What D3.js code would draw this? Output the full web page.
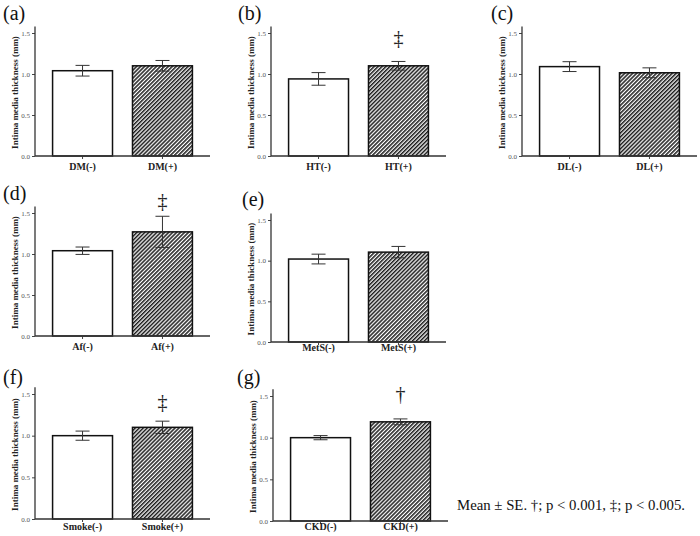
<!DOCTYPE html>
<html><head><meta charset="utf-8">
<script src="https://cdn.jsdelivr.net/npm/d3@7"></script>
<style>body{margin:0;background:#fff}svg{display:block}</style>
</head><body>
<svg id="c" width="700" height="536"></svg>
<script>
// ---- data ----
const panelLabels = ["(a)","(b)","(c)","(d)","(e)","(f)","(g)"];
const categories = [
  ["DM(-)","DM(+)"],
  ["HT(-)","HT(+)"],
  ["DL(-)","DL(+)"],
  ["Af(-)","Af(+)"],
  ["MetS(-)","MetS(+)"],
  ["Smoke(-)","Smoke(+)"],
  ["CKD(-)","CKD(+)"]
];
const means = [
  [1.04, 1.10],
  [0.94, 1.10],
  [1.09, 1.015],
  [1.04, 1.27],
  [1.02, 1.105],
  [1.00, 1.10],
  [1.00, 1.19]
];
const se = [
  [0.065, 0.065],
  [0.077, 0.053],
  [0.06, 0.06],
  [0.045, 0.19],
  [0.06, 0.07],
  [0.055, 0.074],
  [0.025, 0.035]
];
const markers = ["", "‡", "", "‡", "", "‡", "†"];
const yTicks = [0, 0.5, 1.0, 1.5];
const yTitle = "Intima media thickness (mm)";
const footnote = "Mean ± SE. †; p < 0.001, ‡; p < 0.005.";

// ---- layout (positions only) ----
const layout = [
  {ax:35,  xEnd:210, y0:156, y15:33,  lx:3,   ly:19.5, mk:1.44, gap:7},
  {ax:271, xEnd:446, y0:156, y15:33,  lx:238, ly:19.5, mk:1.44, gap:7},
  {ax:522, xEnd:697, y0:156, y15:33,  lx:491, ly:20,   mk:0,    gap:7},
  {ax:35,  xEnd:210, y0:336, y15:213, lx:3,   ly:199.5,mk:1.65, gap:7},
  {ax:271, xEnd:446, y0:342, y15:220, lx:242, ly:206,  mk:0,    gap:2.5},
  {ax:35,  xEnd:210, y0:519, y15:394, lx:3,   ly:384,  mk:1.40, gap:4},
  {ax:273, xEnd:448, y0:521, y15:396, lx:237, ly:384,  mk:1.52, gap:2.5}
];

const svg = d3.select("#c");
const serif = "'Liberation Serif','Times New Roman',serif";

const defs = svg.append("defs");
const pat = defs.append("pattern").attr("id","hatch").attr("patternUnits","userSpaceOnUse")
  .attr("width",2.8).attr("height",2.8).attr("patternTransform","rotate(45)");
pat.append("rect").attr("width",2.8).attr("height",2.8).attr("fill","#fff");
pat.append("line").attr("x1",0.7).attr("y1",0).attr("x2",0.7).attr("y2",2.8)
  .attr("stroke","#1e1e1e").attr("stroke-width",1.7);

layout.forEach((L, i) => {
  const g = svg.append("g");
  const y = d3.scaleLinear().domain([0,1.5]).range([L.y0, L.y15]);
  const x = d3.scaleBand().domain(categories[i]).range([L.ax, L.xEnd])
    .paddingInner(0.25).paddingOuter(0.22);

  // panel label
  g.append("text").attr("x",L.lx).attr("y",L.ly).text(panelLabels[i])
    .attr("font-family",serif).attr("font-size",20).attr("fill","#111");

  // bars
  const rows = categories[i].map((c,j)=>({c, m:means[i][j], s:se[i][j], j}));
  g.selectAll("rect.bar").data(rows).join("rect").attr("class","bar")
    .attr("x",d=>x(d.c)).attr("width",x.bandwidth())
    .attr("y",d=>y(d.m)).attr("height",d=>y(0)-y(d.m))
    .attr("fill",d=>d.j===0?"#fff":"url(#hatch)")
    .attr("stroke","#111").attr("stroke-width",1.5);

  // error bars
  rows.forEach(d=>{
    const cx = x(d.c)+x.bandwidth()/2;
    const eg = g.append("g").attr("stroke","#333").attr("stroke-width",1);
    eg.append("line").attr("x1",cx).attr("x2",cx).attr("y1",y(d.m-d.s)).attr("y2",y(d.m+d.s));
    [d.m-d.s, d.m+d.s].forEach(v=>{
      eg.append("line").attr("x1",cx-7).attr("x2",cx+7).attr("y1",y(v)).attr("y2",y(v));
    });
  });

  // y axis
  const yAxis = d3.axisLeft(y).tickValues(yTicks).tickFormat(d3.format(".1f")).tickSize(3).tickPadding(2);
  const ya = g.append("g").attr("transform",`translate(${L.ax},0)`).call(yAxis);
  ya.select(".domain").remove();
  ya.selectAll(".tick line").attr("stroke","#444");
  ya.selectAll(".tick text").attr("font-family",serif).attr("font-size",7).attr("fill","#555");
  g.append("line").attr("x1",L.ax).attr("x2",L.ax).attr("y1",y(0)).attr("y2",y(1.58))
    .attr("stroke","#333").attr("stroke-width",1.3);

  // x axis
  const xAxis = d3.axisBottom(x).tickSize(3).tickPadding(L.gap-3.5);
  const xa = g.append("g").attr("transform",`translate(0,${L.y0})`).call(xAxis);
  xa.select(".domain").remove();
  xa.selectAll(".tick line").attr("stroke","#444");
  xa.selectAll(".tick text").attr("font-family",serif).attr("font-size",10)
    .attr("font-weight","bold").attr("fill","#222");
  g.append("line").attr("x1",L.ax).attr("x2",L.xEnd).attr("y1",L.y0).attr("y2",L.y0)
    .attr("stroke","#333").attr("stroke-width",1.3);

  // y title
  const tcx = L.ax-20, tcy = (L.y0+L.y15)/2 - 2;
  g.append("text").attr("transform",`translate(${tcx},${tcy}) rotate(-90)`)
    .attr("text-anchor","middle").attr("dominant-baseline","central")
    .attr("font-family",serif).attr("font-size",9).attr("font-weight","bold").attr("fill","#222")
    .text(yTitle);

  // significance marker
  if (markers[i]) {
    const cx = x(categories[i][1]) + x.bandwidth()/2;
    g.append("text").attr("x",cx).attr("y",y(L.mk)).attr("text-anchor","middle")
      .attr("dominant-baseline","central").attr("font-family",serif).attr("font-size",20)
      .attr("fill","#222").text(markers[i]);
  }
});

svg.append("text").attr("x",457).attr("y",510).attr("font-family",serif).attr("font-size",14)
  .attr("fill","#111").attr("textLength",228).attr("lengthAdjust","spacingAndGlyphs").text(footnote);
</script>
</body></html>
